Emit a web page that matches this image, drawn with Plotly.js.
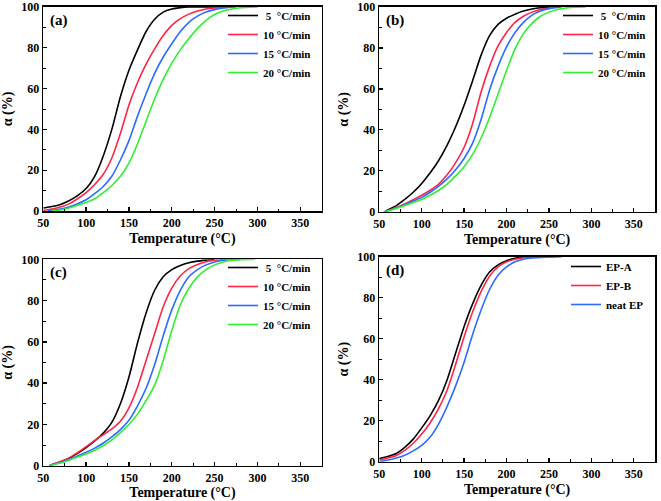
<!DOCTYPE html>
<html><head><meta charset="utf-8">
<script src="https://cdn.plot.ly/plotly-3.0.1.min.js"></script>
<style>html,body{margin:0;padding:0;background:#fff}#chart{width:661px;height:501px}</style>
</head><body><div id="chart"></div>
<script>
// ---- labels ----
const rateLabels = ['\u00a05\u00a0\u00a0°C/min', '10 °C/min', '15 °C/min', '20 °C/min'];
const sampleLabels = ['EP-A', 'EP-B', 'neat EP'];
const panelLabels = ['(a)', '(b)', '(c)', '(d)'];
const xTitle = 'Temperature (°C)';
const yTitle = 'α (%)';

// ---- panel (a) ----
const aT5 = [50,60,70,80,90,100,110,120,130,140,150,160,170,180,190,200,210,220,260];
const aY5 = [1.5,2.2,3.2,5,7.5,11,17,27,40,56,69,79,88,94,97.5,99,99.7,100,100];
const aT10 = [50,60,70,80,90,100,110,120,130,140,150,160,170,180,190,200,210,220,230,240,250,260,275];
const aY10 = [0.3,1,2,3.5,6,9,13,18,26,38,52,63,72,79.5,86,91,94.3,96.5,98,99,99.5,99.8,100];
const aT15 = [55,60,70,80,90,100,110,120,130,140,150,160,170,180,190,200,210,220,230,240,250,260,270];
const aY15 = [0,0.3,1,2,3.5,5.5,8.5,12,17,25,34.5,46.5,57.5,67.5,75.5,82,88,92.5,95.5,97.5,98.7,99.5,100];
const aT20 = [60,70,80,90,100,110,120,130,140,150,160,170,180,190,200,210,220,230,240,250,260,270,280,300];
const aY20 = [0,0.5,1.5,2.8,4.2,6,9,12.5,17,23.5,33,44,55,64.5,72.5,79,84.5,89.5,93.5,96.3,98,99,99.6,100];

// ---- panel (b) ----
const bT5 = [57,60,70,80,90,100,110,120,130,140,150,160,170,180,190,200,210,220,230,240,255];
const bY5 = [0,0.8,3,6,9.5,13.8,19,25,32.5,41.5,52,64,76.5,86,91.5,94.5,96.5,98,99,99.6,100];
const bT10 = [57,60,70,80,90,100,110,120,130,140,150,160,170,180,190,200,210,220,230,240,250,260];
const bY10 = [0,0.5,2,3.8,5.8,8,10.5,13.5,18,24,31.5,43,58.5,71,81,87.5,92.5,95.5,97.5,98.8,99.5,100];
const bT15 = [55,60,70,80,90,100,110,120,130,140,150,160,170,180,190,200,210,220,230,240,250,265];
const bY15 = [0,0.5,1.8,3.4,5.2,7,9.5,12.5,16,20.5,26,33.5,45,59.5,71,80.5,87.5,92.5,96,98,99.2,100];
const bT20 = [57,60,70,80,90,100,110,120,130,140,150,160,170,180,190,200,210,220,230,240,250,260,270,280,293];
const bY20 = [0,0.4,1.6,3,4.5,6,8,10.5,13.5,17.5,22,28,36,46,57.5,69,79.5,87,92,95.5,97.5,98.8,99.5,99.9,100];

// ---- panel (c) ----
const cT5 = [57,60,70,80,90,100,110,120,130,140,150,160,170,180,190,200,210,220,230,240,250];
const cY5 = [0,0.5,1.8,3.5,6,8.8,12,15.8,21,30,43,59.5,74,85,91.5,95,97,98.3,99.1,99.6,100];
const cT10 = [57,60,70,80,90,100,110,120,130,140,150,160,170,180,190,200,210,220,230,240,250,265];
const cY10 = [0,0.5,2,3.8,6.3,9.2,12.3,15,17.8,21.5,28,38,51,64,77,86,92,95.5,97.5,98.8,99.5,100];
const cT15 = [57,60,70,80,90,100,110,120,130,140,150,160,170,180,190,200,210,220,230,240,250,260,280];
const cY15 = [0,0.4,1.5,3,4.7,6.5,8.5,11,14,17.5,22,29,37.5,49,63,75.5,85,91.5,95,97.3,98.7,99.5,100];
const cT20 = [57,60,70,80,90,100,110,120,130,140,150,160,170,180,190,200,210,220,230,240,250,260,270,297];
const cY20 = [0,0.3,1.3,2.7,4.2,5.7,7.5,9.8,12.5,16,20,25,31.5,39,51,65.5,78,86,91.5,95,97.3,98.7,99.5,100];

// ---- panel (d) ----
const dTA = [50,60,70,80,90,100,110,120,130,140,150,160,170,180,190,200,210,220,230];
const dYA = [1.5,2.5,4,7,11,16.5,22.5,30,40,53,66,77,86,92.5,96,98,99.2,99.8,100];
const dTB = [50,60,70,80,90,100,110,120,130,140,150,160,170,180,190,200,210,220,235];
const dYB = [0.8,1.8,3,5.5,9,13.5,19,26,35,47.5,61,73,83,90.5,95,97.5,98.8,99.5,100];
const dTN = [50,60,70,80,90,100,110,120,130,140,150,160,170,180,190,200,210,220,230,245,265];
const dYN = [0,0.8,1.8,3.2,5.3,8,12,18.5,27,37,48.5,62,74,84,91,95,97.5,98.8,99.4,99.8,100];

// ---- styling ----
const rateColors = ['#000000', '#ff2448', '#2d6bff', '#2ef02e'];
const sampleColors = ['#000000', '#ff2448', '#2d6bff'];
const FONT = 'Liberation Serif';

const panels = [
  {T: [aT5, aT10, aT15, aT20], Y: [aY5, aY10, aY15, aY20], names: rateLabels, colors: rateColors},
  {T: [bT5, bT10, bT15, bT20], Y: [bY5, bY10, bY15, bY20], names: rateLabels, colors: rateColors},
  {T: [cT5, cT10, cT15, cT20], Y: [cY5, cY10, cY15, cY20], names: rateLabels, colors: rateColors},
  {T: [dTA, dTB, dTN], Y: [dYA, dYB, dYN], names: sampleLabels, colors: sampleColors}
];

const W = 661, H = 501;
// plot area boxes in px: [left, right, top, bottom]
const boxes = [[43.3, 321.7, 7, 211], [379.3, 655, 7, 211.7], [43.3, 321.7, 259.3, 465.7], [379.3, 655, 256.7, 461.7]];
// legend anchor (right edge, top) in px
const legPos = [[316, 1], [651, 1], [316, 253], [649, 252]];

const data = [];
const layout = {
  width: W, height: H,
  margin: {l: 0, r: 0, t: 0, b: 0},
  paper_bgcolor: '#ffffff', plot_bgcolor: '#ffffff',
  font: {family: FONT, color: '#000000', size: 12, weight: 'bold'},
  showlegend: true,
  annotations: []
};

panels.forEach((p, i) => {
  const k = i + 1;
  const sfx = k === 1 ? '' : String(k);
  const legId = 'legend' + sfx;
  p.T.forEach((t, j) => {
    data.push({
      type: 'scatter', mode: 'lines', x: t, y: p.Y[j], name: p.names[j],
      xaxis: 'x' + sfx, yaxis: 'y' + sfx, legend: legId,
      line: {color: p.colors[j], width: 1.6, shape: 'spline', smoothing: 0.6}
    });
  });
  const b = boxes[i];
  const axCommon = {
    showline: true, mirror: true, linecolor: '#000000', linewidth: 1.6,
    showgrid: false, zeroline: false, ticks: 'inside', ticklen: 4, tickwidth: 1.3,
    tickcolor: '#000000', fixedrange: true, ticklabeloverflow: 'allow',
    tickfont: {family: FONT, size: 12, weight: 'bold', color: '#000000'}
  };
  layout['xaxis' + sfx] = Object.assign({}, axCommon, {
    domain: [b[0] / W, b[1] / W], anchor: 'y' + sfx,
    range: [50, 375], tick0: 50, dtick: 50,
    minor: {ticks: 'inside', ticklen: 2.5, dtick: 25, tick0: 50, tickcolor: '#000000', tickwidth: 1},
    title: {text: xTitle, font: {family: FONT, size: 14, weight: 'bold'}, standoff: 4}
  });
  layout['yaxis' + sfx] = Object.assign({}, axCommon, {
    domain: [1 - b[3] / H, 1 - b[2] / H], anchor: 'x' + sfx,
    range: [0, 100], tick0: 0, dtick: 20,
    minor: {ticks: 'inside', ticklen: 2.5, dtick: 10, tick0: 0, tickcolor: '#000000', tickwidth: 1},
    title: {text: yTitle, font: {family: FONT, size: 14, weight: 'bold'}, standoff: 5}
  });
  const lp = legPos[i];
  layout[legId] = {
    x: lp[0] / W, y: 1 - lp[1] / H, xanchor: 'right', yanchor: 'top',
    bgcolor: 'rgba(0,0,0,0)', borderwidth: 0,
    font: {family: FONT, size: 11, weight: 'bold', color: '#000000'},
    itemwidth: 30, tracegroupgap: 0
  };
  layout.annotations.push({
    text: panelLabels[i], showarrow: false,
    xref: 'x' + sfx + ' domain', yref: 'y' + sfx + ' domain',
    x: 0.018, y: 0.935, xanchor: 'left', yanchor: 'middle',
    font: {family: FONT, size: 15, weight: 'bold', color: '#000000'}
  });
});

Plotly.newPlot('chart', data, layout, {displayModeBar: false, staticPlot: true});
</script>
</body></html>
